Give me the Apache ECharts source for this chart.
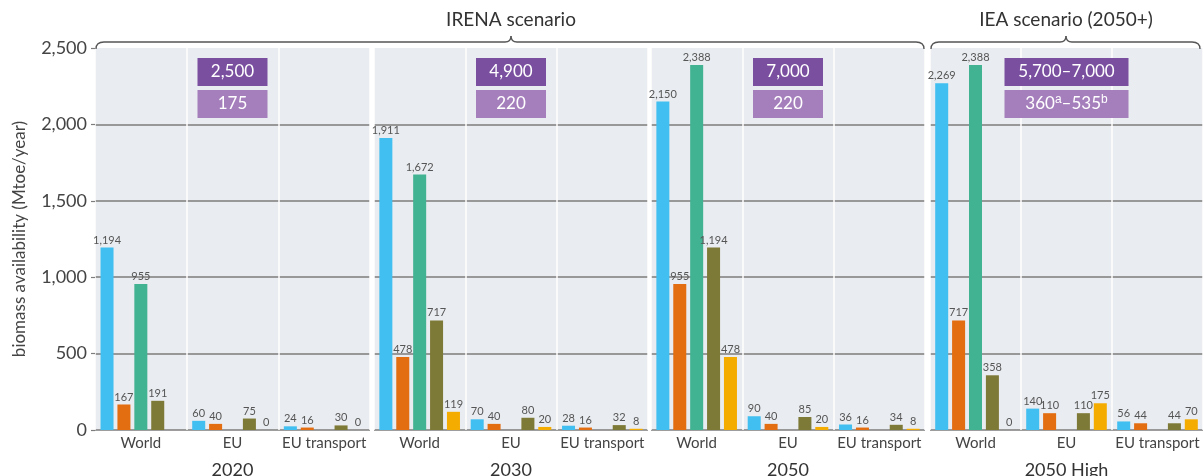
<!DOCTYPE html>
<html>
<head>
<meta charset="utf-8">
<script src="https://cdn.jsdelivr.net/npm/echarts@6/dist/echarts.min.js"></script>
<style>
  html, body { margin: 0; padding: 0; background: #fff; }
  #chart { width: 1203px; height: 476px; }
</style>
</head>
<body>
<div id="chart"></div>
<script>
// data, one entry per panel, each with [World, EU, EU transport]
const years = ['2020', '2030', '2050', '2050 High']
const regions = ['World', 'EU', 'EU transport']
const blue   = [[1194, 60, 24], [1911, 70, 28], [2150, 90, 36], [2269, 140, 56]]
const orange = [[167, 40, 16], [478, 40, 16], [955, 40, 16], [717, 110, 44]]
const green  = [[955, null, null], [1672, null, null], [2388, null, null], [2388, null, null]]
const olive  = [[191, 75, 30], [717, 80, 32], [1194, 85, 34], [358, 110, 44]]
const yellow = [[null, 0, 0], [119, 20, 8], [478, 20, 8], [0, 175, 70]]
const topBox = ['2,500', '4,900', '7,000', '5,700–7,000']
const subBox = ['175', '220', '220', '360{sup|a}–535{sup|b}']

const colors = ['#41bff0', '#e36d11', '#41b292', '#7d7936', '#f5ac00']
const seriesData = [blue, orange, green, olive, yellow]

const panels = [
  { left: 95, width: 275 },
  { left: 374, width: 274 },
  { left: 651, width: 274 },
  { left: 930, width: 273 }
]
const TOP = 48, BOTTOM = 46
const FONT = 'Lato'
const GRIDLINE = '#7d7d7d'

const chart = echarts.init(document.getElementById('chart'))

const grid = [], xAxis = [], yAxis = [], series = []
panels.forEach((p, i) => {
  grid.push({
    left: p.left, width: p.width, top: TOP, bottom: BOTTOM,
    show: true, backgroundColor: '#e9ecf0', borderWidth: 0,
    containLabel: false, outerBoundsMode: 'none'
  })
  xAxis.push({
    type: 'category', gridIndex: i, data: regions,
    axisLine: { show: false }, axisTick: { show: false },
    axisLabel: { interval: 0, fontSize: 15, color: '#444', margin: 6, fontFamily: FONT },
    splitLine: { show: true, interval: 0, lineStyle: { color: '#ffffff', width: 1.5 } },
    name: years[i], nameLocation: 'middle', nameGap: 31,
    nameTextStyle: { fontSize: 18, color: '#333', fontFamily: FONT }
  })
  yAxis.push({
    type: 'value', gridIndex: i, min: 0, max: 2500, interval: 500,
    axisLine: { show: false },
    axisTick: { show: i === 0, length: 4, lineStyle: { color: GRIDLINE, width: 1.2 } },
    axisLabel: {
      show: i === 0, fontSize: 18, color: '#444', margin: 8, fontFamily: FONT,
      formatter: v => v.toLocaleString('en-US')
    },
    splitLine: {
      show: true,
      lineStyle: { color: [GRIDLINE, GRIDLINE, GRIDLINE, GRIDLINE, GRIDLINE, 'rgba(0,0,0,0)'], width: 1.5 }
    },
    name: i === 0 ? 'biomass availability (Mtoe/year)' : '',
    nameLocation: 'middle', nameGap: 67,
    nameTextStyle: { fontSize: 17, color: '#444', fontFamily: FONT }
  })
  seriesData.forEach((arr, k) => {
    series.push({
      type: 'bar', xAxisIndex: i, yAxisIndex: i,
      data: arr[i], barWidth: 13, barGap: '30%',
      itemStyle: { color: colors[k] },
      label: {
        show: true, position: 'top', distance: 2,
        fontSize: 11, color: '#555', fontFamily: FONT,
        formatter: d => d.value == null ? '' : d.value.toLocaleString('en-US')
      }
    })
  })
})

chart.setOption({
  animation: false,
  grid, xAxis, yAxis, series
})

// curly brace over a span of panels, built from lines and curves
const braceStyle = { stroke: '#555', lineWidth: 1.3, fill: null }
function brace(x0, x1, mid, y) {
  return [
    { type: 'bezierCurve', shape: { x1: x0, y1: y + 7, cpx1: x0, cpy1: y, x2: x0 + 8, y2: y }, style: braceStyle },
    { type: 'line', shape: { x1: x0 + 8, y1: y, x2: mid - 6, y2: y }, style: braceStyle },
    { type: 'bezierCurve', shape: { x1: mid - 6, y1: y, cpx1: mid, cpy1: y, x2: mid, y2: y - 6 }, style: braceStyle },
    { type: 'bezierCurve', shape: { x1: mid, y1: y - 6, cpx1: mid, cpy1: y, x2: mid + 6, y2: y }, style: braceStyle },
    { type: 'line', shape: { x1: mid + 6, y1: y, x2: x1 - 8, y2: y }, style: braceStyle },
    { type: 'bezierCurve', shape: { x1: x1 - 8, y1: y, cpx1: x1, cpy1: y, x2: x1, y2: y + 7 }, style: braceStyle }
  ]
}

const graphic = []
const boxColors = ['#7a4fa0', '#a57fbc']
panels.forEach((p, i) => {
  const cx = chart.convertToPixel({ xAxisIndex: i }, 'EU')
  const w = i === 3 ? 124 : 70
  ;[topBox[i], subBox[i]].forEach((t, j) => {
    graphic.push({
      type: 'rect', shape: { x: cx - w / 2, y: 58 + j * 32, width: w, height: 28 },
      style: { fill: boxColors[j] }, z: 10
    })
    graphic.push({
      type: 'text', x: cx, y: 72 + j * 32, z: 11,
      style: {
        text: t, fill: '#fff', fontSize: 17, fontFamily: FONT,
        align: 'center', verticalAlign: 'middle',
        rich: { sup: { fontSize: 12, fill: '#fff', padding: [0, 0, 9, 0] } }
      }
    })
  })
})
const irenaMid = 511, ieaMid = 1066
graphic.push(...brace(96, 924, irenaMid, 42))
graphic.push(...brace(931, 1200, ieaMid, 42))
graphic.push({
  type: 'text', x: irenaMid, y: 20,
  style: { text: 'IRENA scenario', fontSize: 19, fill: '#333', fontFamily: FONT, align: 'center', verticalAlign: 'middle' }
})
graphic.push({
  type: 'text', x: ieaMid, y: 20,
  style: { text: 'IEA scenario (2050+)', fontSize: 19, fill: '#333', fontFamily: FONT, align: 'center', verticalAlign: 'middle' }
})

chart.setOption({ graphic })
</script>
</body>
</html>
